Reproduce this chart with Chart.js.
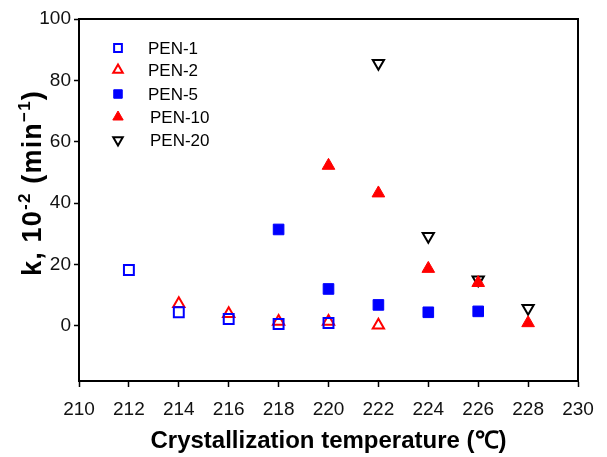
<!DOCTYPE html>
<html>
<head>
<meta charset="utf-8">
<script src="https://cdn.jsdelivr.net/npm/chart.js@4/dist/chart.umd.min.js"></script>
<style>
html,body{margin:0;padding:0;background:#fff;}
#wrap{width:607px;height:457px;position:relative;}
</style>
</head>
<body>
<div id="wrap"><canvas id="c" width="607" height="457"></canvas></div>
<script>
const xTicks = [210,212,214,216,218,220,222,224,226,228,230];
const yTicks = [0,20,40,60,80,100];

const pen1X = [212,214,216,218,220];
const pen1Y = [18.2,4.4,2.2,0.6,0.9];

const pen2X = [214,216,218,220,222];
const pen2Y = [7.2,3.9,1.4,1.4,0.2];

const pen5X = [218,220,222,224,226];
const pen5Y = [31.4,12.0,6.8,4.4,4.7];

const pen10X = [220,222,224,226,228];
const pen10Y = [52.2,43.2,18.6,14.0,0.9];

const pen20X = [222,224,226,228];
const pen20Y = [85.6,29.2,15.0,5.7];

const yTitleParts = [['k, 10',false],['-2',true],[' (min',false],['\u22121',true],[')',false]];

const toPts = (xs, ys) => xs.map((x,i)=>({x:x,y:ys[i]}));

const datasets = [
  {label:'PEN-1', data:toPts(pen1X,pen1Y), pointStyle:'rect', pointRadius:7, borderColor:'#0000ff', backgroundColor:'rgba(0,0,0,0)', pointBorderWidth:2, rotation:0, legendRadius:5.5},
  {label:'PEN-2', data:toPts(pen2X,pen2Y), pointStyle:'triangle', pointRadius:6.5, borderColor:'#ff0000', backgroundColor:'rgba(0,0,0,0)', pointBorderWidth:2, rotation:0, legendRadius:5.5},
  {label:'PEN-5', data:toPts(pen5X,pen5Y), pointStyle:'rect', pointRadius:7.5, borderColor:'#0000ff', backgroundColor:'#0000ff', pointBorderWidth:1, rotation:0, legendRadius:6},
  {label:'PEN-10', data:toPts(pen10X,pen10Y), pointStyle:'triangle', pointRadius:7.3, borderColor:'#ff0000', backgroundColor:'#ff0000', pointBorderWidth:1, rotation:0, legendRadius:6},
  {label:'PEN-20', data:toPts(pen20X,pen20Y), pointStyle:'triangle', pointRadius:6.5, borderColor:'#000000', backgroundColor:'rgba(0,0,0,0)', pointBorderWidth:2, rotation:180, legendRadius:5.5}
];

const legendRows = [48, 70, 94, 117, 140];
const legendTextX = [148,148,148,150,150];
const FONT = '"Liberation Sans", Arial, sans-serif';

const boxPlugin = {
  id:'box',
  afterDraw(chart){
    const ctx = chart.ctx, a = chart.chartArea;
    ctx.save();
    ctx.strokeStyle = '#000';
    ctx.lineWidth = 2;
    ctx.beginPath();
    ctx.moveTo(a.left, a.top);
    ctx.lineTo(a.right, a.top);
    ctx.lineTo(a.right, a.bottom);
    ctx.stroke();
    // legend
    ctx.font = '17px ' + FONT;
    ctx.textBaseline = 'middle';
    ctx.textAlign = 'left';
    chart.data.datasets.forEach((ds,i)=>{
      const y = legendRows[i];
      ctx.save();
      ctx.strokeStyle = ds.borderColor;
      ctx.fillStyle = ds.backgroundColor;
      ctx.lineWidth = ds.pointBorderWidth;
      Chart.helpers.drawPoint(ctx, {pointStyle: ds.pointStyle, radius: ds.legendRadius, rotation: ds.rotation, borderWidth: ds.pointBorderWidth}, 118, y);
      ctx.restore();
      ctx.fillStyle = '#000';
      ctx.fillText(ds.label, legendTextX[i], y+1);
    });
    // y-axis title with superscripts
    const big = 'bold 27px ' + FONT, small = 'bold 17px ' + FONT;
    ctx.letterSpacing = '1.2px';
    let total = 0;
    yTitleParts.forEach(([t,sup])=>{ ctx.font = sup?small:big; total += ctx.measureText(t).width; });
    ctx.translate(33, 183);
    ctx.rotate(-Math.PI/2);
    ctx.fillStyle = '#000';
    ctx.textBaseline = 'middle';
    let x = -total/2;
    yTitleParts.forEach(([t,sup])=>{
      ctx.font = sup?small:big;
      ctx.fillText(t, x, sup ? -8 : 1);
      x += ctx.measureText(t).width;
    });
    ctx.restore();
  }
};

new Chart(document.getElementById('c'), {
  type:'scatter',
  data:{datasets:datasets},
  options:{
    responsive:false,
    animation:false,
    devicePixelRatio:1,
    layout:{padding:{left:0,top:19,right:29,bottom:0}},
    plugins:{legend:{display:false}, tooltip:{enabled:false}},
    scales:{
      x:{
        type:'linear', min:210, max:230,
        afterBuildTicks(s){ s.ticks = xTicks.map(v=>({value:v})); },
        afterFit(s){ s.height = 457-381; },
        grid:{drawOnChartArea:false, drawTicks:true, tickLength:6, tickColor:'#000', tickWidth:1.5},
        border:{display:true, color:'#000', width:2},
        ticks:{color:'#111', font:{size:19, family:FONT}, padding:11, maxRotation:0, autoSkip:false},
        title:{display:true, text:'Crystallization temperature (\u2103)', color:'#000', font:{size:24, weight:'bold', family:FONT}, padding:{top:0,bottom:1}}
      },
      y:{
        type:'linear', min:-18, max:100,
        afterBuildTicks(s){ s.ticks = yTicks.map(v=>({value:v})); },
        afterFit(s){ s.width = 79; },
        grid:{drawOnChartArea:false, drawTicks:true, tickLength:5, tickColor:'#000', tickWidth:1.5},
        border:{display:true, color:'#000', width:2},
        ticks:{color:'#111', font:{size:19, family:FONT}, padding:3},
        title:{display:false}
      }
    }
  },
  plugins:[boxPlugin]
});
</script>
</body>
</html>
